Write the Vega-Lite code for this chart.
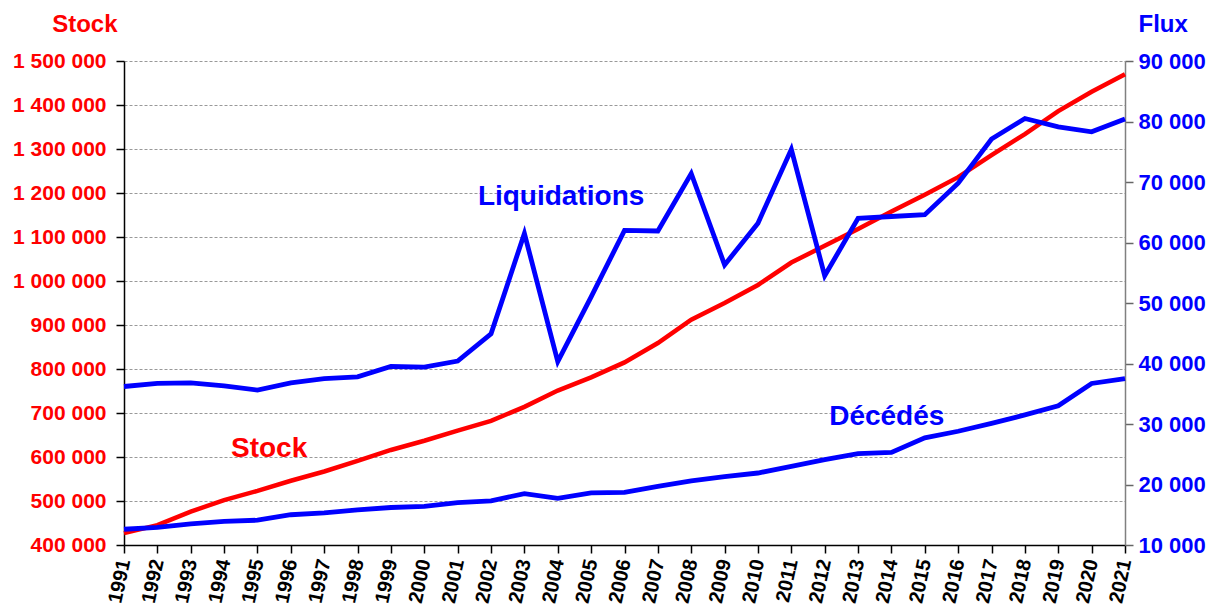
{
  "$schema": "https://vega.github.io/schema/vega-lite/v6.json",
  "width": 1001,
  "height": 484,
  "autosize": {"type": "none"},
  "padding": {"left": 124, "top": 61, "right": 90, "bottom": 63},
  "background": "white",
  "config": {
    "view": {"stroke": null},
    "font": "Liberation Sans",
    "axis": {"labelFont": "Liberation Sans", "titleFont": "Liberation Sans"},
    "axisX": {"labelOverlap": false, "labelBound": false, "labelFlush": false}
  },
  "datasets": {
    "series": [
      {"year": 1991, "stock": 427000, "liquidations": 36200, "deces": 12600},
      {"year": 1992, "stock": 445000, "liquidations": 36700, "deces": 12900},
      {"year": 1993, "stock": 476000, "liquidations": 36800, "deces": 13500},
      {"year": 1994, "stock": 502000, "liquidations": 36300, "deces": 13900},
      {"year": 1995, "stock": 523000, "liquidations": 35600, "deces": 14100},
      {"year": 1996, "stock": 546000, "liquidations": 36800, "deces": 15000},
      {"year": 1997, "stock": 567000, "liquidations": 37500, "deces": 15300},
      {"year": 1998, "stock": 591000, "liquidations": 37800, "deces": 15800},
      {"year": 1999, "stock": 616000, "liquidations": 39500, "deces": 16200},
      {"year": 2000, "stock": 637000, "liquidations": 39400, "deces": 16400},
      {"year": 2001, "stock": 660000, "liquidations": 40400, "deces": 17000},
      {"year": 2002, "stock": 682000, "liquidations": 44900, "deces": 17300},
      {"year": 2003, "stock": 714000, "liquidations": 61500, "deces": 18500},
      {"year": 2004, "stock": 751000, "liquidations": 40300, "deces": 17700},
      {"year": 2005, "stock": 781000, "liquidations": 51000, "deces": 18600},
      {"year": 2006, "stock": 815000, "liquidations": 62000, "deces": 18700},
      {"year": 2007, "stock": 859000, "liquidations": 61900, "deces": 19700},
      {"year": 2008, "stock": 912000, "liquidations": 71400, "deces": 20600},
      {"year": 2009, "stock": 950000, "liquidations": 56300, "deces": 21300},
      {"year": 2010, "stock": 991000, "liquidations": 63200, "deces": 21900},
      {"year": 2011, "stock": 1042000, "liquidations": 75400, "deces": 23000},
      {"year": 2012, "stock": 1080000, "liquidations": 54500, "deces": 24100},
      {"year": 2013, "stock": 1118000, "liquidations": 64000, "deces": 25100},
      {"year": 2014, "stock": 1158000, "liquidations": 64300, "deces": 25300},
      {"year": 2015, "stock": 1196000, "liquidations": 64600, "deces": 27700},
      {"year": 2016, "stock": 1236000, "liquidations": 69800, "deces": 28800},
      {"year": 2017, "stock": 1286000, "liquidations": 77100, "deces": 30100},
      {"year": 2018, "stock": 1334000, "liquidations": 80500, "deces": 31500},
      {"year": 2019, "stock": 1386000, "liquidations": 79100, "deces": 33000},
      {"year": 2020, "stock": 1430000, "liquidations": 78300, "deces": 36700},
      {"year": 2021, "stock": 1470000, "liquidations": 80400, "deces": 37500}
    ],
    "labels": [
      {"label": "Stock", "year": 1995.35, "value": 599000, "side": "left"},
      {"label": "Liquidations", "year": 2004.1, "value": 66200, "side": "right"},
      {"label": "Décédés", "year": 2013.86, "value": 29800, "side": "right"}
    ]
  },
  "encoding": {
    "x": {
      "field": "year", "type": "quantitative",
      "scale": {"domain": [1991, 2021], "nice": false, "zero": false},
      "axis": {
        "title": null,
        "values": [1991,1992,1993,1994,1995,1996,1997,1998,1999,2000,2001,2002,2003,2004,2005,2006,2007,2008,2009,2010,2011,2012,2013,2014,2015,2016,2017,2018,2019,2020,2021],
        "labelExpr": "'' + datum.value",
        "grid": false,
        "domainColor": "#000000",
        "domainWidth": 1.5,
        "tickColor": "#000000",
        "tickSize": 8,
        "tickWidth": 1.5,
        "labelAngle": -78,
        "labelFontSize": 20,
        "labelFontWeight": "bold",
        "labelColor": "#000000",
        "labelPadding": 6,
        "labelOverlap": false,
        "labelSeparation": 0,
        "labelBound": false,
        "labelFlush": false
      }
    }
  },
  "layer": [
    {
      "layer": [
        {
          "data": {"name": "series"},
          "mark": {"type": "line", "color": "#FF0000", "strokeWidth": 4.5, "clip": false},
          "encoding": {
            "y": {
              "field": "stock", "type": "quantitative",
              "scale": {"domain": [400000, 1500000], "nice": false, "zero": false},
              "axis": {
                "orient": "left",
                "title": "Stock",
                "titleAngle": 0,
                "titleAlign": "right",
                "titleBaseline": "alphabetic",
                "titleX": -7,
                "titleY": -30,
                "titleFontSize": 24,
                "titleFontWeight": "bold",
                "titleColor": "#FF0000",
                "values": [400000,450000,500000,550000,600000,650000,700000,750000,800000,850000,900000,950000,1000000,1050000,1100000,1150000,1200000,1250000,1300000,1350000,1400000,1450000,1500000],
                "labelExpr": "datum.value % 100000 === 0 ? replace(replace(format(datum.value, ','), ',', ' '), ',', ' ') : ''",
                "labelFontSize": 21,
                "labelFontWeight": "bold",
                "labelColor": "#FF0000",
                "labelPadding": 10,
                "labelOverlap": false,
                "labelBound": false,
                "labelFlush": false,
                "domainColor": "#000000",
                "domainWidth": 1.5,
                "tickColor": "#000000",
                "tickSize": 8,
                "tickWidth": 1.5,
                "tickOpacity": {"condition": {"test": "datum.value % 100000 === 0", "value": 1}, "value": 0},
                "grid": true,
                "gridColor": "#999999",
                "gridDash": [3, 2],
                "gridWidth": 1
              }
            }
          }
        },
        {
          "data": {"name": "labels"},
          "transform": [{"filter": "datum.side === 'left'"}],
          "mark": {"type": "text", "color": "#FF0000", "fontSize": 28, "fontWeight": "bold", "font": "Liberation Sans", "align": "center", "baseline": "alphabetic"},
          "encoding": {
            "y": {"field": "value", "type": "quantitative"},
            "text": {"field": "label"}
          }
        }
      ]
    },
    {
      "layer": [
        {
          "data": {"name": "series"},
          "mark": {"type": "line", "color": "#0000FF", "strokeWidth": 4.8, "clip": false},
          "encoding": {
            "y": {
              "field": "liquidations", "type": "quantitative",
              "scale": {"domain": [10000, 90000], "nice": false, "zero": false},
              "axis": {
                "orient": "right",
                "title": "Flux",
                "titleAngle": 0,
                "titleAlign": "left",
                "titleBaseline": "alphabetic",
                "titleX": 13,
                "titleY": -30,
                "titleFontSize": 24,
                "titleFontWeight": "bold",
                "titleColor": "#0000FF",
                "values": [10000,20000,30000,40000,50000,60000,70000,80000,90000],
                "labelExpr": "replace(format(datum.value, ','), ',', ' ')",
                "labelFontSize": 22,
                "labelFontWeight": "bold",
                "labelColor": "#0000FF",
                "labelPadding": 5,
                "labelOverlap": false,
                "labelBound": false,
                "labelFlush": false,
                "domainColor": "#808080",
                "domainWidth": 1.5,
                "tickColor": "#666666",
                "tickSize": 8,
                "tickWidth": 1.5,
                "grid": false
              }
            }
          }
        },
        {
          "data": {"name": "series"},
          "mark": {"type": "line", "color": "#0000FF", "strokeWidth": 4.8, "clip": false},
          "encoding": {
            "y": {"field": "deces", "type": "quantitative"}
          }
        },
        {
          "data": {"name": "labels"},
          "transform": [{"filter": "datum.side === 'right'"}],
          "mark": {"type": "text", "color": "#0000FF", "fontSize": 28, "fontWeight": "bold", "font": "Liberation Sans", "align": "center", "baseline": "alphabetic"},
          "encoding": {
            "y": {"field": "value", "type": "quantitative"},
            "text": {"field": "label"}
          }
        }
      ]
    }
  ],
  "resolve": {"scale": {"y": "independent"}, "axis": {"y": "independent"}}
}
